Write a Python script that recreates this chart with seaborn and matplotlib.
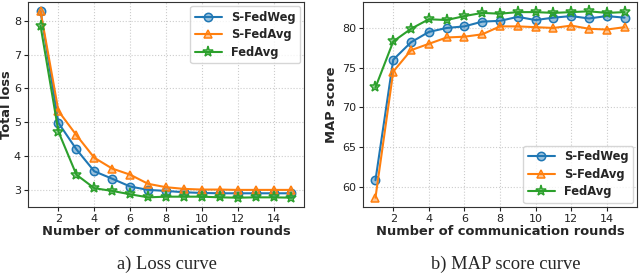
import numpy as np
import pandas as pd
import matplotlib
matplotlib.use("Agg")
import matplotlib.pyplot as plt
import seaborn as sns

# ---- data ----
rounds = list(range(1, 16))

loss_sfedweg = [8.28, 4.98, 4.20, 3.55, 3.33, 3.10, 3.00, 2.97, 2.93, 2.91, 2.90, 2.90, 2.90, 2.90, 2.90]
loss_sfedavg = [8.28, 5.33, 4.62, 3.95, 3.63, 3.45, 3.18, 3.08, 3.03, 3.01, 3.01, 3.00, 3.00, 3.00, 3.00]
loss_fedavg = [7.85, 4.72, 3.45, 3.05, 2.97, 2.87, 2.78, 2.80, 2.80, 2.80, 2.78, 2.77, 2.78, 2.78, 2.77]

map_sfedweg = [60.8, 76.0, 78.2, 79.5, 80.0, 80.2, 80.8, 80.9, 81.4, 81.0, 81.3, 81.5, 81.2, 81.5, 81.3]
map_sfedavg = [58.6, 74.5, 77.2, 78.0, 78.8, 78.9, 79.2, 80.2, 80.2, 80.1, 80.0, 80.3, 79.9, 79.8, 80.1]
map_fedavg = [72.5, 78.3, 79.9, 81.1, 81.0, 81.5, 81.9, 81.8, 82.0, 82.0, 81.9, 82.0, 82.1, 81.9, 82.0]

methods = ["S-FedWeg", "S-FedAvg", "FedAvg"]
colors = ["#1f77b4", "#ff7f0e", "#2ca02c"]
markers = ["o", "^", "*"]

sns.set_style("ticks")
plt.rcParams["font.family"] = ["DejaVu Sans"]

fig = plt.figure(figsize=(6.4, 2.74), dpi=100)
ax1 = fig.add_axes([28 / 640, 67 / 274, 276 / 640, 205 / 274])
ax2 = fig.add_axes([363 / 640, 67 / 274, 274 / 640, 205 / 274])


def draw(ax, series, ylabel, loc):
    for name, vals, c, m in zip(methods, series, colors, markers):
        df = pd.DataFrame({"round": rounds, "val": vals})
        sns.lineplot(data=df, x="round", y="val", ax=ax, color=c, marker=m,
                     markersize=8 if m == "*" else 6, linewidth=1.5,
                     markerfacecolor=matplotlib.colors.to_rgba(c, 0.45),
                     markeredgecolor=c, markeredgewidth=1.1, label=name)
    ax.grid(True, linestyle=":", color="#cccccc", linewidth=0.8)
    ax.set_xticks([2, 4, 6, 8, 10, 12, 14])
    ax.margins(x=0.05, y=0.05)
    ax.tick_params(labelsize=8, length=3, pad=2, colors="#222222")
    ax.set_xlabel("Number of communication rounds", fontsize=9.4, fontweight="bold", labelpad=1)
    ax.set_ylabel(ylabel, fontsize=9.4, fontweight="bold")
    for s in ax.spines.values():
        s.set_color("#333333")
    leg = ax.legend(loc=loc, prop={"weight": "bold", "size": 8.3}, frameon=True,
                    handlelength=2.3, borderpad=0.4, labelspacing=0.4,
                    borderaxespad=0.35)
    leg.get_frame().set_edgecolor("#cccccc")


draw(ax1, [loss_sfedweg, loss_sfedavg, loss_fedavg], "Total loss", "upper right")
ax1.set_yticks([3, 4, 5, 6, 7, 8])
ax1.yaxis.set_label_coords(-0.054, 0.5)

draw(ax2, [map_sfedweg, map_sfedavg, map_fedavg], "MAP score", "lower right")
ax2.set_yticks([60, 65, 70, 75, 80])
ax2.yaxis.set_label_coords(-0.091, 0.5)

fig.text(167 / 640, 10 / 274, "a) Loss curve", ha="center", va="center",
         fontsize=13.3, family="Liberation Serif")
fig.text(506 / 640, 10 / 274, "b) MAP score curve", ha="center", va="center",
         fontsize=13.3, family="Liberation Serif")

fig.savefig("out.png", dpi=100)
